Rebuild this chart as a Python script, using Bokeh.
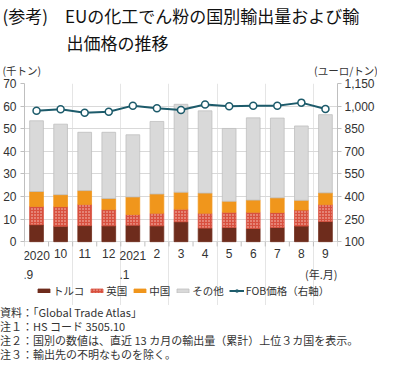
from bokeh.plotting import figure
from bokeh.layouts import column
from bokeh.models import (ColumnDataSource, Range1d, LinearAxis, FixedTicker, Title, Label,
                          LabelSet, Legend, LegendItem, NumeralTickFormatter, Div)
from bokeh.core.properties import value
from bokeh.embed import file_html
from bokeh.resources import INLINE

# ---------------- data ----------------
months = ["2020\n.9", "10", "11", "12", "2021\n.1", "2", "3", "4", "5", "6", "7", "8", "9"]
turkey = [7.5, 6.8, 7.1, 7.0, 7.3, 7.0, 8.8, 6.0, 6.3, 5.8, 6.3, 6.9, 8.9]
uk = [8.1, 8.7, 9.4, 7.2, 4.7, 5.6, 5.6, 6.6, 6.7, 7.2, 6.6, 7.1, 7.5]
china = [6.6, 5.3, 6.1, 4.9, 7.8, 8.5, 7.5, 8.9, 4.9, 5.4, 6.5, 4.3, 5.2]
other = [31.3, 31.2, 25.8, 29.3, 27.5, 32.1, 38.9, 36.4, 32.2, 36.4, 35.3, 32.9, 34.6]
fob_price = [969, 979, 956, 962, 1003, 985, 974, 1011, 999, 1003, 1003, 1023, 981]
series_names = ["トルコ", "英国", "中国", "その他", "FOB価格（右軸）"]
left_ticks = [0, 10, 20, 30, 40, 50, 60, 70]
right_ticks = [100, 250, 400, 550, 700, 850, 1000, 1150]
x_unit = "(年.月)"
title_lines = ["(参考)", "EUの化工でん粉の国別輸出量および輸", "出価格の推移"]
y_units = ["(千トン)", "(ユーロ/トン)"]
notes = ["資料：「Global Trade Atlas」",
         "注１：HS コード 3505.10",
         "注２：国別の数値は、直近 13 カ月の輸出量（累計）上位３カ国を表示。",
         "注３：輸出先の不明なものを除く。"]

# ---------------- layout / style ----------------
W = 377
NOTE_H = 56
MAIN_H = 361 - NOTE_H
FL, FR = 22, 338           # frame left / right
FT = 72                    # frame top (value 70)
Y0 = 238                   # pixel row of value 0
FBOT = MAIN_H              # frame bottom (frame extends under the baseline)
JP = "Noto Sans CJK JP"
NUM = "Liberation Sans"
colors = ["#6e2c1c", "#d8503f", "#f0961c", "#d9d9d9"]
edge = ["#6e2c1c", "#d8503f", "#f0961c", "#bfbfbf"]
line_col = "#1d5b6b"
axis_col = "#bfbfbf"
txt_col = "#333333"
IDSP = "\u3000"

L_MAX, R_MIN, R_MAX = 70, 100, 1150
ext = (FBOT - Y0) / (Y0 - FT)          # extra room below the baseline, as a fraction
n = len(months)
xs = [i + 0.5 for i in range(n)]
src = ColumnDataSource(dict(x=xs, turkey=turkey, uk=uk, china=china, other=other,
                            fob=fob_price, label=months))

p = figure(width=W, height=MAIN_H, output_backend="svg", toolbar_location=None,
           x_range=Range1d(0, n), y_range=Range1d(-L_MAX * ext, L_MAX),
           x_axis_location=None,
           min_border_left=FL, min_border_right=W - FR,
           min_border_top=FT, min_border_bottom=0)
p.outline_line_color = None
p.background_fill_color = "white"
p.border_fill_color = "white"
p.extra_y_ranges = {"price": Range1d(R_MIN - (R_MAX - R_MIN) * ext, R_MAX)}

p.ygrid.ticker = FixedTicker(ticks=left_ticks)
p.ygrid.grid_line_color = "#d9d9d9"
p.ygrid.grid_line_width = 1

ya = p.yaxis[0]
ya.ticker = FixedTicker(ticks=left_ticks)
ya.bounds = (0, L_MAX)
ya.axis_line_color = axis_col
ya.major_tick_line_color = axis_col
ya.major_tick_out = 4
ya.major_tick_in = 0
ya.minor_tick_line_color = None
ya.major_label_standoff = 4
ya.major_label_text_font = NUM
ya.major_label_text_font_size = "12px"
ya.major_label_text_color = txt_col

ra = LinearAxis(y_range_name="price", ticker=FixedTicker(ticks=right_ticks),
                formatter=NumeralTickFormatter(format="0,0"), bounds=(R_MIN, R_MAX))
ra.axis_line_color = axis_col
ra.major_tick_line_color = axis_col
ra.major_tick_out = 4
ra.major_tick_in = 0
ra.minor_tick_line_color = None
ra.major_label_standoff = 3
ra.major_label_text_font = NUM
ra.major_label_text_font_size = "12px"
ra.major_label_text_color = txt_col
p.add_layout(ra, "right")

# baseline ticks at category boundaries
tick_len = 5 * L_MAX / (Y0 - FT)
bounds_x = list(range(n + 1))
p.segment(x0=bounds_x, y0=[0] * (n + 1), x1=bounds_x, y1=[-tick_len] * (n + 1),
          line_color=axis_col, line_width=1)

bars = p.vbar_stack(["turkey", "uk", "china", "other"], x="x", width=0.57, source=src,
                    fill_color=colors, line_color=edge, line_width=0.8)
bars[1].glyph.hatch_pattern = "dot"
bars[1].glyph.hatch_color = "#f6cfc6"
bars[1].glyph.hatch_scale = 3
bars[1].glyph.hatch_weight = 1.2

ln = p.line("x", "fob", source=src, y_range_name="price", line_color=line_col, line_width=2)
pts = p.scatter("x", "fob", source=src, y_range_name="price", size=7,
                fill_color="white", line_color=line_col, line_width=1.5)

# category labels under the baseline
p.add_layout(LabelSet(x="x", y=0, text="label", source=src, y_offset=-7,
                      text_align="center", text_baseline="top",
                      text_font=value(NUM), text_font_size=value("12px"),
                      text_color=value(txt_col), text_line_height=1.4))
p.add_layout(Label(x=n, y=0, text=x_unit, y_offset=-24, text_align="right",
                   text_baseline="top", text_font=JP, text_font_size="11px",
                   text_color=txt_col))

# legend inside the extended frame, under the labels
items = [LegendItem(label=series_names[i], renderers=[bars[i]]) for i in range(4)]
items.append(LegendItem(label=series_names[4], renderers=[ln, pts]))
leg = Legend(items=items, orientation="horizontal", location=(12, 7),
             glyph_width=15, glyph_height=5, label_standoff=2, spacing=5,
             padding=0, margin=0, border_line_color=None, background_fill_alpha=0,
             label_text_font=JP, label_text_font_size="10.5px", label_text_color=txt_col,
             label_height=14)
p.add_layout(leg, "center")


def ttl(text, offset, size, standoff, color=txt_col):
    p.add_layout(Title(text=text, align="left", offset=offset, standoff=standoff,
                       text_font=JP, text_font_size=size, text_font_style="normal",
                       text_color=color), "above")


# above panel (first added sits nearest the frame)
ttl(y_units[0] + IDSP * 26 + y_units[1], -FL, "10.5px", 12)
ttl(title_lines[2], 64 - FL, "17px", 0, "#111111")
ttl(title_lines[0] + IDSP + title_lines[1], -FL, "17px", 0, "#111111")

# notes
note_html = "<br>".join(notes)
foot = Div(text=note_html, width=W, height=NOTE_H, margin=(0, 0, 0, 0),
           styles={"font-family": "'Noto Sans CJK JP'", "font-size": "11px",
                   "line-height": "14px", "color": txt_col, "white-space": "nowrap"})

layout = column(p, foot, spacing=0)
open("out.html", "w").write(file_html(layout, INLINE))
